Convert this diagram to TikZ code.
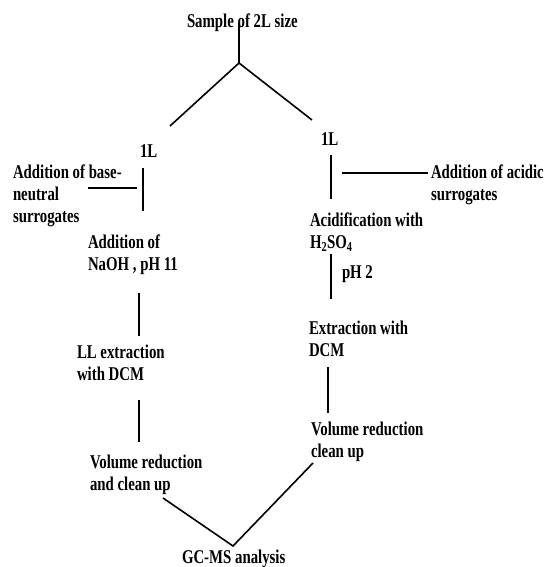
\documentclass[tikz,border=0pt]{standalone}
\usepackage{fontspec}
\newfontfamily\lab{Liberation Serif}[UprightFont=* Bold, FakeStretch=0.76]
\tikzset{
  lbl/.style={inner sep=0pt, outer sep=0pt, anchor=base west, align=left,
    font=\lab\fontsize{19.5}{22}\selectfont},
  ln/.style={line width=1.3pt},
  hl/.style={line width=2pt},
  dl/.style={line width=1.6pt}
}
\begin{document}
\begin{tikzpicture}[x=1pt,y=-1pt]
\useasboundingbox[fill=white] (0,0) rectangle (546,567);
% text (base anchor = baseline of last line)
\node[lbl] (sample) at (187,28) {Sample of 2L size};
\node[lbl] (oneL) at (140,157) {1L};
\node[lbl] (oneR) at (321,146) {1L};
\node[lbl] (basesur) at (13,222) {Addition of base-\\neutral\\surrogates};
\node[lbl] (acidsur) at (431,200) {Addition of acidic\\surrogates};
\node[lbl] (acidif) at (310,248) {Acidification with\\H\textsubscript{2}SO\textsubscript{4}};
\node[lbl] (ph2) at (342,278) {pH 2};
\node[lbl] (naoh) at (88,270) {Addition of\\NaOH , pH 11};
\node[lbl] (llx) at (77,380) {LL extraction\\with DCM};
\node[lbl] (exd) at (309,356) {Extraction with\\DCM};
\node[lbl] (vrR) at (311,457) {Volume reduction\\clean up};
\node[lbl] (vrL) at (90,490) {Volume reduction\\and clean up};
\node[lbl] (gcms) at (182,563) {GC-MS analysis};
% coordinates
\coordinate (t0) at (239,23);
\coordinate (t1) at (239,63);
\coordinate (dL) at (170,126);
\coordinate (dR) at (312,120);
\coordinate (l1a) at (143,168);
\coordinate (l1b) at (143,211);
\coordinate (lha) at (88,188);
\coordinate (lhb) at (137,188);
\coordinate (r1a) at (331,155);
\coordinate (r1b) at (331,199);
\coordinate (rha) at (342,173);
\coordinate (rhb) at (428,173);
\coordinate (r2a) at (331,254);
\coordinate (r2b) at (331,299);
\coordinate (l2a) at (139,293);
\coordinate (l2b) at (139,336);
\coordinate (r3a) at (328,367);
\coordinate (r3b) at (328,413);
\coordinate (l3a) at (139,400);
\coordinate (l3b) at (139,442);
\coordinate (bL) at (163,498);
\coordinate (bM) at (233,546);
\coordinate (bR) at (313,463);
% lines
\draw[ln] (t0) -- (t1);
\draw[dl] (dL) -- (t1) -- (dR);
\draw[ln] (l1a) -- (l1b);
\draw[hl] (lha) -- (lhb);
\draw[ln] (r1a) -- (r1b);
\draw[hl] (rha) -- (rhb);
\draw[ln] (r2a) -- (r2b);
\draw[ln] (l2a) -- (l2b);
\draw[ln] (r3a) -- (r3b);
\draw[ln] (l3a) -- (l3b);
\draw[dl] (bL) -- (bM) -- (bR);
\end{tikzpicture}
\end{document}
